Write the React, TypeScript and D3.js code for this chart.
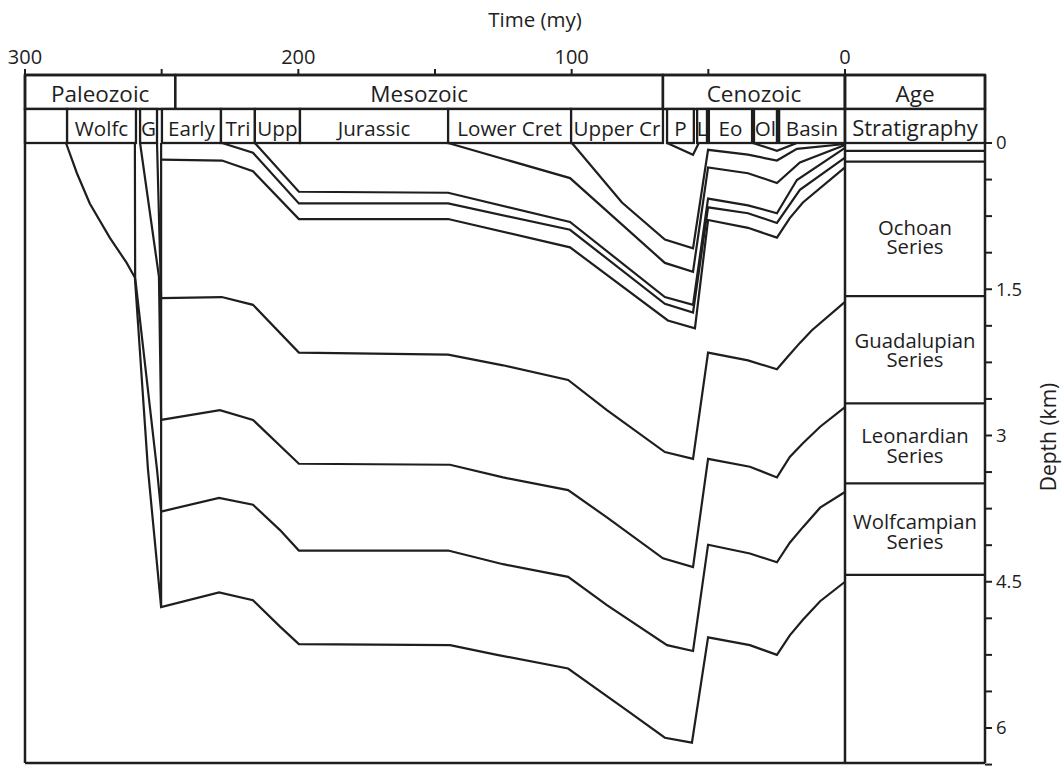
import React from 'react';
import * as d3 from 'd3';

type Pt = [number, number];

// ---- axis data ----
const timeTicks = [300, 250, 200, 150, 100, 50, 0];
const timeLabels = [300, 200, 100, 0];
const depthMajor = [0, 1.5, 3, 4.5, 6];
const depthMinor = [0.375, 0.75, 1.125, 1.875, 2.25, 2.625, 3.375, 3.75, 4.125, 4.875, 5.25, 5.625, 6.375];

// ---- header data (time in my) ----
const eraNames = ['Paleozoic', 'Mesozoic', 'Cenozoic'];
const eraStart = [300, 245, 66.6];
const eraEnd = [245, 66.6, 0];

const periodNames = ['', 'Wolfc', 'G', 'Early', 'Tri', 'Upp', 'Jurassic', 'Lower Cret', 'Upper Cr', 'P', 'L', 'Eo', 'Ol', 'Basin'];
const periodStart = [300, 284.6, 257.9, 249.9, 228.3, 215.9, 199.4, 145.2, 100.2, 65.1, 54.1, 49.8, 33.3, 24.1];
const periodEnd = [284.6, 259.4, 251.7, 228.3, 215.9, 199.4, 145.2, 100.2, 66.6, 55.3, 50.5, 34.0, 24.9, 0];

// ---- stratigraphy column (depth km) ----
const stratBounds = [0.08, 0.19, 1.57, 2.67, 3.49, 4.43];
const seriesNames = ['Ochoan', 'Guadalupian', 'Leonardian', 'Wolfcampian'];
const seriesLabelDepth = [0.94, 2.10, 3.08, 3.96];

// ---- burial curves [time my, depth km] ----
const wolfcampianBase: Pt[] = [[285, 0], [281, 0.31], [276.3, 0.62], [269, 0.97], [262.8, 1.23], [259.8, 1.38], [255.0, 3.35], [250.2, 4.76], [229.0, 4.61], [216.6, 4.69], [206.7, 4.96], [199.8, 5.14], [144.5, 5.15], [127.3, 5.25], [101.3, 5.39], [79.8, 5.82], [65.9, 6.10], [56.0, 6.15], [50.1, 5.07], [34.8, 5.15], [24.9, 5.25], [20.2, 5.05], [15.4, 4.89], [9.1, 4.70], [0, 4.50]];
const leonardianBase: Pt[] = [[259.8, 0], [259.7, 1.38], [251.7, 3.35], [250.2, 3.78], [229.0, 3.64], [216.6, 3.71], [206.7, 3.97], [199.8, 4.18], [145.2, 4.18], [125.1, 4.32], [101.3, 4.45], [87.1, 4.74], [65.1, 5.15], [55.6, 5.21], [50.1, 4.12], [34.8, 4.21], [24.9, 4.30], [20.2, 4.10], [15.4, 3.94], [9.1, 3.74], [0, 3.58]];
const guadalupianBase: Pt[] = [[257.9, 0], [251.0, 1.37], [250.2, 2.84], [228.7, 2.74], [216.6, 2.84], [199.8, 3.29], [144.5, 3.30], [125.1, 3.43], [101.3, 3.56], [87.1, 3.84], [66.6, 4.26], [55.6, 4.35], [50.1, 3.24], [34.8, 3.32], [24.9, 3.43], [20.2, 3.22], [15.4, 3.08], [9.1, 2.91], [0, 2.71]];
const ochoanBase: Pt[] = [[251.7, 0], [250.2, 1.59], [228.0, 1.58], [216.6, 1.66], [199.8, 2.15], [145.2, 2.17], [125.1, 2.28], [101.3, 2.43], [87.1, 2.74], [65.9, 3.17], [55.6, 3.24], [50.1, 2.15], [35.5, 2.23], [24.9, 2.32], [21.2, 2.20], [16.5, 2.05], [12.1, 1.92], [0, 1.63]];
const permianTop: Pt[] = [[250.2, 0.17], [227.9, 0.18], [216.6, 0.29], [199.8, 0.78], [145.2, 0.78], [100.6, 1.07], [64.8, 1.82], [54.9, 1.90], [50.1, 0.79], [35.5, 0.87], [24.9, 0.97], [20.2, 0.77], [15.4, 0.61], [0, 0.25]];
const triassicMid: Pt[] = [[227.9, 0], [216.6, 0.10], [199.8, 0.62], [145.2, 0.62], [100.6, 0.89], [65.9, 1.65], [55.6, 1.74], [50.1, 0.66], [35.5, 0.72], [24.9, 0.82], [16.5, 0.48], [0, 0.15]];
const upperTriassic: Pt[] = [[215.9, 0], [199.8, 0.50], [145.2, 0.51], [100.6, 0.81], [65.9, 1.58], [55.6, 1.66], [50.1, 0.57], [35.5, 0.64], [24.9, 0.72], [17.6, 0.38], [0, 0.05]];
const lowerCretBase: Pt[] = [[145.2, 0], [100.6, 0.36], [65.9, 1.23], [55.6, 1.32], [50.1, 0.25], [35.5, 0.31], [24.9, 0.41], [16.5, 0.20], [0, 0.02]];
const upperCretBase: Pt[] = [[99.9, 0], [81.6, 0.61], [65.9, 0.99], [55.6, 1.08], [50.1, 0.07], [35.5, 0.12], [24.9, 0.18], [17.6, 0.06], [0, 0.01]];
const paleoceneBase: Pt[] = [[65.1, 0], [55.6, 0.12], [53.5, 0]];
const oligoceneBase: Pt[] = [[33.7, 0], [24.9, 0.08], [17.6, 0]];
const permoTriassicBoundary: Pt[] = [[250.2, 0], [250.2, 4.76]];

const curves: Pt[][] = [wolfcampianBase, leonardianBase, guadalupianBase, ochoanBase, permianTop, triassicMid, upperTriassic, lowerCretBase, upperCretBase, paleoceneBase, oligoceneBase, permoTriassicBoundary];

const FONT = "'Open Sans', 'Noto Sans', sans-serif";
const INK = '#1e1e1e';

export default function App() {
  const W = 1063, H = 767;
  const left = 25, right = 985, top = 75, row1 = 109, row2 = 143, bottom = 763;
  const x = d3.scaleLinear().domain([300, 0]).range([left, 845]);
  const y = d3.scaleLinear().domain([0, 6]).range([row2, 728]);
  const line = d3.line<Pt>().x(d => x(d[0])).y(d => y(d[1]));
  const ageX0 = x(0), ageX1 = right;
  const ageCx = (ageX0 + ageX1) / 2;

  return (
    <svg width={W} height={H} style={{ position: 'absolute', left: 0, top: 0, background: '#fff' }} fontFamily={FONT}>
      <rect x={0} y={0} width={W} height={H} fill="#fff" />
      {/* title */}
      <text x={535} y={27} fontSize={20.5} textAnchor="middle" fill={INK}>Time (my)</text>
      {/* time ticks */}
      {timeTicks.map(t => (
        <line key={'tt' + t} x1={x(t)} x2={x(t)} y1={top} y2={top - 6} stroke={INK} strokeWidth={2} />
      ))}
      {timeLabels.map(t => (
        <text key={'tl' + t} x={x(t)} y={64} fontSize={20} textAnchor="middle" fill={INK}>{t}</text>
      ))}

      {/* burial curves */}
      {curves.map((c, i) => (
        <path key={'c' + i} d={line(c) || ''} fill="none" stroke={INK} strokeWidth={2.2} strokeLinejoin="miter" />
      ))}

      {/* era row */}
      {eraNames.map((n, i) => (
        <g key={'era' + i}>
          <rect x={x(eraStart[i])} y={top} width={x(eraEnd[i]) - x(eraStart[i])} height={row1 - top} fill="#fff" stroke={INK} strokeWidth={2.5} />
          <text x={(x(eraStart[i]) + x(eraEnd[i])) / 2} y={102} fontSize={22.5} textAnchor="middle" fill={INK}>{n}</text>
        </g>
      ))}
      {/* period row */}
      {periodNames.map((n, i) => (
        <g key={'per' + i}>
          <rect x={x(periodStart[i])} y={row1} width={x(periodEnd[i]) - x(periodStart[i])} height={row2 - row1} fill="#fff" stroke={INK} strokeWidth={2.3} />
          <text x={(x(periodStart[i]) + x(periodEnd[i])) / 2} y={136} fontSize={20.6} textAnchor="middle" fill={INK}>{n}</text>
        </g>
      ))}

      {/* age / stratigraphy column */}
      <rect x={ageX0} y={top} width={ageX1 - ageX0} height={row1 - top} fill="#fff" stroke={INK} strokeWidth={2.5} />
      <text x={ageCx} y={102} fontSize={22.5} textAnchor="middle" fill={INK}>Age</text>
      <rect x={ageX0} y={row1} width={ageX1 - ageX0} height={row2 - row1} fill="#fff" stroke={INK} strokeWidth={2.3} />
      <text x={ageCx} y={136} fontSize={22} textAnchor="middle" fill={INK}>Stratigraphy</text>
      {stratBounds.map((d, i) => (
        <line key={'sb' + i} x1={ageX0} x2={ageX1} y1={y(d)} y2={y(d)} stroke={INK} strokeWidth={2.3} />
      ))}
      {seriesNames.map((n, i) => (
        <text key={'sn' + i} x={ageCx} y={y(seriesLabelDepth[i])} fontSize={20.3} textAnchor="middle" fill={INK}>
          <tspan x={ageCx}>{n}</tspan>
          <tspan x={ageCx} dy={19.7}>Series</tspan>
        </text>
      ))}

      {/* frame */}
      <line x1={left} x2={left} y1={top} y2={bottom} stroke={INK} strokeWidth={2.5} />
      <line x1={left} x2={right} y1={bottom} y2={bottom} stroke={INK} strokeWidth={2.5} />
      <line x1={ageX0} x2={ageX0} y1={top} y2={bottom} stroke={INK} strokeWidth={2.5} />
      <line x1={right} x2={right} y1={top} y2={bottom} stroke={INK} strokeWidth={2.5} />
      <line x1={left} x2={right} y1={top} y2={top} stroke={INK} strokeWidth={2.5} />

      {/* depth axis */}
      {depthMinor.map(d => (
        <line key={'dm' + d} x1={right} x2={right + 7} y1={y(d)} y2={y(d)} stroke={INK} strokeWidth={2} />
      ))}
      {depthMajor.map(d => (
        <g key={'dM' + d}>
          <line x1={right} x2={right + 7} y1={y(d)} y2={y(d)} stroke={INK} strokeWidth={2} />
          <text x={right + 11} y={y(d)} dy="0.35em" fontSize={18.5} fill={INK}>{d}</text>
        </g>
      ))}
      <text transform={`translate(1049, 437) rotate(-90)`} fontSize={21} textAnchor="middle" dy="0.35em" fill={INK}>Depth (km)</text>
    </svg>
  );
}
